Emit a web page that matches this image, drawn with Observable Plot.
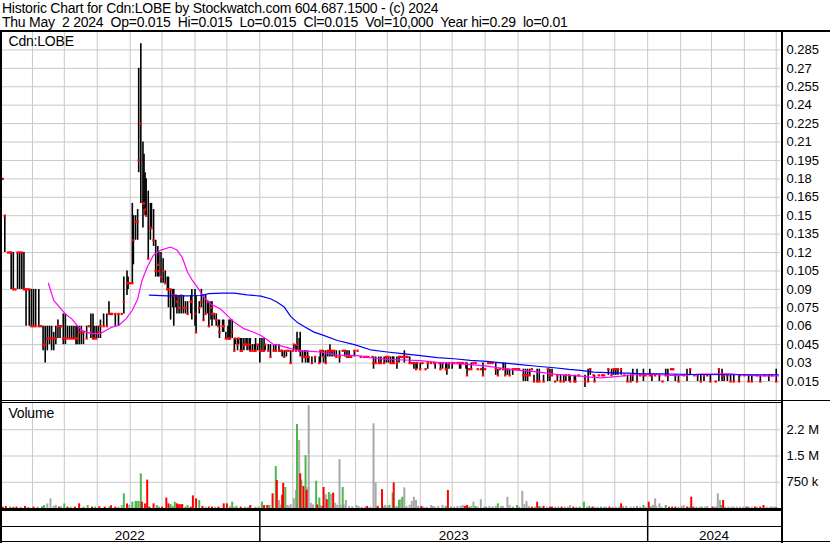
<!DOCTYPE html>
<html>
<head>
<meta charset="utf-8">
<script src="https://cdn.jsdelivr.net/npm/d3@7"></script>
<script src="https://cdn.jsdelivr.net/npm/@observablehq/plot@0.6"></script>
<style>
  html, body { margin: 0; padding: 0; background: #fff; }
  #wrap { position: relative; width: 830px; height: 543px; overflow: hidden; background: #fff;
          font-family: "Liberation Sans", Arial, sans-serif; color: #000; }
  #wrap > svg, #wrap > div.plot { position: absolute; left: 0; }
  .hdr { position: absolute; left: 2px; font-size: 14px; letter-spacing: -0.25px; white-space: pre; line-height: 15px; }
  .lbl { position: absolute; left: 8.5px; font-size: 14px; letter-spacing: -0.2px; white-space: pre; line-height: 15px; }
  .ln { position: absolute; background: #000; }
</style>
</head>
<body>
<div id="wrap"></div>
<script>
// ---------------- data ----------------
const titleLine1 = "Historic Chart for Cdn:LOBE by Stockwatch.com 604.687.1500 - (c) 2024";
const titleLine2 = "Thu May  2 2024  Op=0.015  Hi=0.015  Lo=0.015  Cl=0.015  Vol=10,000  Year hi=0.29  lo=0.01";
const symbolLabel = "Cdn:LOBE";
const volumeLabel = "Volume";

// day offset from 2022-05-01, high, low, close
const priceBars = [
[3,.18,.18,.18],[5,.15,.12,.15],[8,.12,.12,.12],[10,.12,.12,.12],[11,.12,.09,.12],[13,.12,.09,.09],[15,.09,.09,.09],[17,.12,.09,.12],[19,.12,.09,.12],[21,.12,.09,.12],[23,.12,.09,.09],[25,.09,.06,.09],[26,.09,.09,.09],[28,.09,.06,.09],[30,.09,.06,.06],[32,.09,.06,.06],[34,.09,.06,.06],[37,.09,.06,.06],[39,.06,.06,.06],
[41,.06,.04,.045],[43,.06,.03,.045],[45,.06,.04,.05],[47,.06,.045,.05],[49,.06,.04,.05],[51,.055,.04,.05],[53,.06,.045,.05],[55,.065,.05,.06],[57,.06,.05,.06],[58,.06,.06,.06],[60,.07,.045,.05],[62,.07,.045,.05],[64,.06,.05,.05],[66,.06,.05,.05],[68,.06,.05,.05],[70,.06,.05,.05],[72,.06,.045,.05],[73,.06,.045,.05],[75,.06,.045,.055],[77,.06,.045,.055],[79,.055,.045,.055],[82,.06,.05,.05],[84,.06,.06,.06],[86,.07,.05,.055],[88,.07,.05,.05],[89,.06,.05,.05],[91,.06,.05,.05],[93,.06,.05,.055],[95,.065,.05,.06],[98,.07,.06,.06],[101,.07,.06,.06],[103,.08,.07,.07],[105,.07,.07,.07],[106,.07,.07,.07],[109,.07,.06,.07],[112,.07,.06,.07],[115,.07,.07,.07],[117,.1,.07,.08],[120,.105,.085,.095],[121,.1,.09,.095],[123,.095,.095,.095],[125,.16,.095,.095],[126,.15,.11,.13],[128,.15,.13,.145],[130,.155,.13,.145],[131,.27,.185,.195],[133,.29,.16,.225],[135,.21,.14,.16],[136,.2,.155,.16],[137,.185,.15,.155],[138,.18,.15,.15],[140,.17,.115,.115],[142,.16,.13,.14],[143,.16,.14,.14],[145,.155,.125,.13],[147,.13,.1,.105],[149,.125,.1,.11],[150,.12,.1,.105],[152,.12,.095,.1],[154,.115,.095,.105],[156,.105,.095,.095],[158,.1,.09,.09],[159,.1,.075,.09],[161,.09,.065,.09],[163,.09,.075,.085],[164,.09,.06,.085],[166,.085,.075,.085],[167,.085,.07,.08],[169,.085,.07,.075],[171,.085,.07,.085],[173,.085,.07,.075],[175,.08,.07,.075],[177,.08,.07,.07],[180,.085,.07,.08],[181,.09,.065,.08],[184,.09,.06,.07],[185,.085,.055,.055],[188,.08,.07,.075],[190,.09,.075,.08],[192,.085,.065,.065],[194,.085,.07,.07],[196,.08,.07,.08],[197,.08,.06,.06],[199,.08,.065,.075],[200,.08,.06,.07],[202,.07,.065,.07],[204,.07,.06,.065],[206,.065,.06,.06],[207,.065,.05,.055],[210,.065,.055,.06],[211,.065,.055,.06],[213,.055,.05,.05],[215,.06,.05,.05],[216,.065,.05,.05],[217,.065,.05,.05],[219,.065,.05,.055],[221,.05,.04,.04],[222,.05,.045,.05],[224,.05,.04,.045],[225,.05,.045,.05],[227,.05,.04,.04],[228,.05,.04,.04],[230,.05,.04,.045],[232,.05,.045,.045],[233,.05,.04,.045],[235,.05,.04,.045],[236,.05,.04,.04],[238,.045,.04,.04],[240,.045,.04,.04],[241,.05,.04,.04],[243,.045,.04,.045],[245,.05,.03,.04],[247,.05,.04,.04],[249,.05,.04,.04],[250,.045,.04,.045],[253,.045,.04,.04],[255,.045,.035,.035],[258,.045,.04,.04],[260,.045,.04,.04],[263,.045,.04,.04],[265,.04,.04,.04],[266,.04,.035,.04],[268,.04,.035,.035],[270,.04,.035,.04],[272,.04,.04,.04],[274,.04,.03,.03],[276,.04,.04,.04],[277,.045,.04,.045],[279,.045,.04,.04],[280,.055,.04,.045],[282,.05,.04,.04],[283,.055,.035,.04],[285,.04,.03,.035],[287,.04,.035,.035],[288,.04,.03,.035],[290,.04,.03,.035],[291,.035,.03,.035],[294,.035,.03,.03],[297,.035,.03,.035],[301,.035,.03,.03],[302,.04,.03,.04],[304,.04,.035,.04],[305,.04,.03,.035],[307,.04,.03,.03],[309,.04,.035,.04],[311,.045,.035,.04],[313,.04,.035,.04],[315,.04,.035,.04],[317,.04,.035,.035],[320,.04,.03,.035],[323,.04,.04,.04],[325,.04,.035,.04],[327,.04,.035,.035],[329,.04,.035,.035],[331,.035,.035,.035],[334,.04,.035,.04],[337,.04,.04,.04],[340,.035,.035,.035],[343,.035,.035,.035],[345,.035,.035,.035],[347,.035,.035,.035],[351,.035,.035,.035],[352,.035,.025,.03],[354,.035,.03,.03],[357,.035,.03,.03],[359,.035,.03,.03],[362,.035,.03,.03],[364,.035,.03,.035],[366,.035,.03,.035],[368,.035,.03,.03],[370,.035,.03,.03],[371,.035,.03,.03],[374,.035,.025,.03],[376,.035,.03,.035],[377,.035,.035,.035],[379,.035,.035,.035],[381,.04,.03,.035],[383,.035,.035,.035],[384,.035,.035,.035],[386,.035,.03,.03],[388,.03,.03,.03],[390,.03,.025,.03],[392,.03,.025,.025],[393,.03,.025,.03],[396,.03,.025,.025],[398,.03,.03,.03],[401,.025,.025,.025],[403,.03,.025,.03],[406,.03,.03,.03],[409,.03,.03,.03],[410,.03,.025,.03],[414,.03,.03,.03],[415,.03,.025,.025],[417,.03,.025,.03],[420,.03,.025,.025],[421,.03,.02,.025],[423,.03,.025,.03],[426,.03,.025,.03],[428,.03,.03,.03],[431,.03,.03,.03],[433,.03,.025,.03],[434,.03,.025,.03],[436,.03,.03,.03],[439,.03,.025,.03],[440,.03,.02,.02],[442,.025,.025,.025],[444,.03,.025,.025],[446,.03,.03,.03],[448,.03,.03,.03],[450,.025,.025,.025],[453,.025,.025,.025],[455,.03,.02,.02],[457,.025,.025,.025],[460,.03,.03,.03],[462,.03,.03,.03],[464,.03,.03,.03],[467,.03,.02,.025],[469,.025,.02,.02],[471,.025,.025,.025],[474,.03,.025,.025],[476,.03,.02,.02],[478,.025,.02,.025],[480,.025,.02,.02],[483,.025,.02,.025],[485,.025,.025,.025],[487,.025,.025,.025],[489,.025,.025,.025],[493,.025,.015,.02],[495,.025,.015,.02],[497,.025,.015,.02],[499,.025,.02,.02],[501,.025,.025,.025],[503,.02,.015,.015],[506,.025,.015,.015],[508,.025,.015,.015],[512,.02,.015,.015],[516,.025,.015,.025],[518,.025,.015,.02],[520,.025,.02,.02],[523,.015,.015,.015],[525,.02,.015,.02],[528,.02,.015,.015],[531,.02,.015,.015],[533,.02,.015,.02],[536,.02,.015,.02],[537,.02,.015,.015],[541,.02,.015,.015],[542,.02,.015,.015],[545,.02,.02,.02],[551,.02,.01,.015],[554,.025,.015,.015],[556,.025,.02,.025],[559,.02,.02,.02],[560,.02,.015,.015],[564,.02,.02,.02],[567,.02,.02,.02],[569,.02,.02,.02],[573,.025,.02,.025],[576,.025,.02,.02],[578,.025,.02,.025],[580,.025,.02,.025],[582,.025,.02,.025],[585,.025,.02,.025],[588,.02,.02,.02],[591,.02,.015,.015],[594,.02,.015,.015],[596,.025,.015,.02],[600,.025,.015,.015],[603,.02,.02,.02],[606,.025,.015,.02],[608,.02,.02,.02],[612,.025,.02,.02],[614,.02,.015,.02],[617,.02,.02,.02],[621,.02,.015,.02],[624,.015,.015,.015],[627,.025,.02,.02],[629,.025,.015,.02],[632,.025,.025,.025],[634,.025,.025,.025],[636,.02,.015,.02],[639,.02,.015,.015],[644,.02,.02,.02],[647,.025,.015,.02],[650,.025,.02,.025],[654,.02,.02,.02],[657,.02,.015,.02],[660,.02,.015,.015],[663,.02,.015,.02],[666,.02,.02,.02],[669,.02,.015,.015],[674,.015,.015,.015],[677,.025,.015,.025],[680,.025,.015,.02],[682,.02,.015,.02],[685,.02,.015,.02],[688,.02,.015,.015],[691,.02,.015,.015],[696,.02,.015,.015],[697,.02,.02,.02],[701,.02,.02,.02],[705,.02,.015,.015],[708,.02,.015,.015],[713,.02,.02,.02],[716,.02,.015,.015],[720,.02,.02,.02],[724,.02,.015,.02],[727,.02,.02,.02],[731,.025,.015,.015]
];

// moving averages: day offset, value
const maFast = [
[46,.095],[51,.081],[56,.076],[62,.070],[68,.066],[73,.0606],[78,.0565],[86,.054],[95,.054],[105,.059],[112,.0606],[119,.066],[125,.073],[130,.082],[134,.097],[139,.108],[145,.118],[152,.122],[161,.1245],[167,.122],[172,.116],[177,.104],[181,.098],[186,.092],[192,.084],[199,.078],[208,.074],[214,.069],[221,.0633],[230,.058],[238,.0555],[246,.0525],[252,.049],[258,.045],[265,.044],[274,.0417],[283,.040],[293,.0395],[302,.039],[318,.0365],[337,.036],[349,.0345],[365,.033],[381,.0325],[396,.032],[412,.0305],[428,.0297],[443,.0287],[459,.0275],[475,.0255],[490,.024],[506,.0228],[522,.021],[536,.020],[547,.0193],[556,.0185],[566,.018],[575,.0185],[585,.0193],[594,.0205],[603,.0205],[613,.021],[622,.0205],[632,.020],[641,.020],[650,.0205],[660,.021],[669,.021],[679,.0213],[688,.0213],[697,.0205],[707,.020],[716,.0195],[726,.0195],[733,.0195]
];
const maSlow = [
[141,.0854],[158,.0847],[177,.0847],[189,.085],[197,.0865],[210,.087],[221,.087],[233,.0855],[246,.0845],[255,.0824],[261,.0797],[268,.0756],[274,.068],[280,.0633],[287,.0595],[296,.0552],[305,.0525],[318,.0484],[334,.045],[349,.0408],[365,.039],[381,.0375],[396,.036],[412,.0345],[428,.0335],[443,.0322],[459,.0313],[475,.030],[490,.0288],[506,.0274],[522,.0262],[536,.0248],[547,.024],[559,.0226],[578,.022],[591,.0218],[606,.0213],[622,.0213],[654,.0207],[685,.0205],[716,.0205],[733,.0205]
];

// volume: day offset, thousands of shares, direction (u = up, d = down, n = unchanged)
const volumeBars = [
[3,40,"d"],[6,60,"d"],[10,40,"u"],[13,30,"d"],[16,40,"d"],[20,40,"n"],[24,60,"d"],[27,30,"u"],[32,40,"d"],[36,40,"n"],[40,50,"u"],[42,86,"u"],[45,130,"n"],[48,276,"n"],[51,60,"n"],[53,90,"n"],[56,40,"d"],[58,50,"n"],[61,130,"u"],[64,40,"d"],[67,40,"n"],[71,40,"d"],[75,134,"d"],[79,40,"u"],[83,86,"u"],[87,40,"d"],[90,40,"u"],[94,50,"d"],[99,40,"d"],[103,40,"u"],[105,80,"d"],[109,40,"d"],[112,40,"n"],[115,86,"n"],[117,420,"u"],[120,130,"d"],[122,90,"n"],[125,180,"u"],[128,200,"u"],[129,200,"u"],[131,200,"u"],[133,990,"u"],[134,181,"d"],[137,130,"d"],[139,810,"d"],[141,40,"d"],[145,134,"d"],[148,86,"u"],[150,40,"u"],[153,40,"d"],[157,300,"d"],[159,134,"d"],[161,110,"u"],[163,60,"u"],[165,181,"u"],[167,134,"d"],[169,110,"d"],[171,110,"d"],[172,110,"d"],[175,40,"u"],[177,86,"u"],[180,40,"d"],[182,360,"d"],[185,276,"d"],[188,229,"u"],[191,60,"d"],[194,40,"n"],[197,40,"d"],[200,40,"d"],[203,40,"n"],[206,40,"d"],[211,134,"d"],[214,134,"d"],[217,60,"n"],[219,181,"u"],[221,40,"n"],[223,60,"u"],[227,40,"d"],[231,40,"n"],[234,40,"n"],[236,86,"d"],[241,40,"n"],[244,50,"n"],[247,181,"u"],[249,86,"d"],[252,86,"d"],[254,86,"u"],[257,420,"d"],[260,1200,"u"],[261,800,"d"],[263,229,"n"],[265,100,"n"],[266,380,"d"],[267,720,"d"],[269,600,"u"],[271,86,"n"],[272,60,"n"],[274,110,"n"],[277,276,"n"],[279,514,"n"],[280,2400,"u"],[282,1940,"n"],[283,990,"d"],[284,810,"u"],[286,630,"d"],[288,1510,"u"],[289,520,"d"],[290,590,"n"],[291,2940,"n"],[293,150,"n"],[295,100,"n"],[298,780,"u"],[299,100,"d"],[301,300,"u"],[302,86,"n"],[304,60,"d"],[305,600,"d"],[307,390,"n"],[308,250,"d"],[310,460,"u"],[312,400,"n"],[314,440,"d"],[316,150,"n"],[318,90,"n"],[320,1400,"n"],[321,90,"n"],[323,600,"u"],[324,100,"n"],[326,229,"n"],[329,60,"n"],[332,50,"n"],[336,86,"n"],[338,60,"n"],[341,40,"n"],[344,40,"n"],[346,60,"d"],[349,40,"n"],[352,2420,"n"],[354,730,"n"],[356,60,"d"],[360,540,"d"],[362,60,"n"],[363,90,"n"],[365,60,"n"],[367,90,"u"],[370,440,"u"],[371,730,"d"],[372,40,"n"],[374,60,"n"],[376,230,"u"],[377,250,"n"],[379,320,"u"],[381,590,"n"],[383,60,"n"],[386,90,"n"],[388,200,"n"],[390,320,"n"],[392,229,"n"],[394,60,"n"],[397,60,"d"],[399,40,"n"],[402,40,"n"],[406,86,"n"],[408,60,"n"],[410,40,"n"],[413,60,"n"],[417,86,"n"],[420,60,"u"],[422,514,"d"],[425,40,"u"],[428,40,"n"],[431,60,"n"],[434,60,"n"],[436,86,"n"],[438,60,"d"],[440,86,"d"],[442,40,"u"],[444,60,"n"],[446,180,"n"],[448,60,"u"],[450,40,"n"],[453,250,"n"],[456,40,"n"],[458,40,"u"],[461,60,"n"],[464,40,"u"],[467,60,"n"],[469,134,"u"],[472,60,"n"],[474,60,"n"],[478,320,"n"],[480,86,"n"],[483,40,"u"],[487,86,"u"],[489,40,"n"],[492,490,"n"],[494,110,"n"],[496,200,"n"],[498,60,"n"],[501,40,"d"],[504,40,"n"],[506,180,"d"],[508,60,"u"],[509,40,"u"],[512,60,"d"],[515,40,"n"],[518,40,"d"],[520,40,"d"],[523,40,"n"],[526,50,"n"],[529,40,"d"],[532,40,"n"],[535,40,"n"],[537,86,"n"],[540,40,"d"],[543,40,"n"],[546,40,"u"],[550,181,"u"],[553,40,"n"],[555,60,"u"],[558,40,"d"],[560,40,"n"],[563,40,"n"],[566,40,"u"],[569,40,"n"],[571,40,"n"],[574,40,"d"],[577,40,"n"],[580,40,"n"],[583,40,"n"],[585,134,"d"],[587,60,"n"],[590,60,"n"],[594,40,"n"],[597,40,"n"],[600,60,"u"],[603,40,"n"],[606,86,"u"],[608,40,"n"],[611,181,"d"],[613,60,"n"],[615,90,"n"],[617,276,"n"],[618,60,"n"],[621,134,"n"],[623,40,"n"],[627,86,"u"],[630,40,"d"],[633,40,"d"],[636,40,"d"],[639,40,"n"],[642,60,"n"],[644,86,"n"],[647,40,"d"],[649,40,"n"],[651,324,"d"],[653,40,"d"],[656,40,"n"],[659,40,"n"],[661,40,"u"],[664,40,"n"],[666,60,"n"],[671,40,"d"],[673,40,"n"],[675,60,"n"],[676,420,"n"],[678,229,"n"],[679,86,"u"],[681,229,"d"],[683,40,"n"],[686,40,"n"],[689,40,"n"],[691,40,"n"],[694,40,"n"],[697,40,"n"],[700,40,"n"],[703,40,"d"],[705,40,"u"],[708,40,"n"],[711,40,"d"],[713,40,"n"],[716,40,"d"],[719,86,"d"],[722,40,"n"],[725,40,"n"],[727,40,"n"],[729,40,"n"],[731,40,"u"]
];

const priceTicks = [0.015,0.03,0.045,0.06,0.075,0.09,0.105,0.12,0.135,0.15,0.165,0.18,0.195,0.21,0.225,0.24,0.255,0.27,0.285];
const priceTickLabels = ["0.015","0.03","0.045","0.06","0.075","0.09","0.105","0.12","0.135","0.15","0.165","0.18","0.195","0.21","0.225","0.24","0.255","0.27","0.285"];
const volumeTicks = [750, 1500, 2250];
const volumeTickLabels = ["750 k", "1.5 M", "2.2 M"];
const yearLabels = ["2022", "2023", "2024"];

// ---------------- build ----------------
const START = Date.UTC(2022, 4, 1);
const toDate = d => new Date(START + d * 864e5);
const xDomain = [toDate(0), toDate(735)];
const xScale = {type: "utc", domain: xDomain, range: [-1, 780]};

const bars = priceBars.map(([d, hi, lo, close]) => ({date: toDate(d), hi, lo, close}));
const fast = maFast.map(([d, v]) => ({date: toDate(d), v}));
const slow = maSlow.map(([d, v]) => ({date: toDate(d), v}));
const vols = volumeBars.map(([d, v, dir]) => ({date: toDate(d), v, dir}));
const monthStarts = d3.utcMonth.range(new Date(Date.UTC(2022, 5, 1)), new Date(Date.UTC(2024, 4, 2)));
const yearStarts = yearLabels.slice(1).map(y => new Date(`${y}-01-01T00:00:00Z`));
const yearRows = yearLabels.map(y => {
  const a = Math.max(+new Date(`${y}-01-01T00:00:00Z`), +xDomain[0]);
  const b = Math.min(+new Date(`${+y + 1}-01-01T00:00:00Z`), +xDomain[1]);
  return {label: y, mid: new Date((a + b) / 2)};
});

const GRID = "#c8c8c8";
const font = {fontFamily: "'Liberation Sans', Arial, sans-serif", fontSize: "13px", background: "transparent", overflow: "visible", color: "#000"};

const price = Plot.plot({
  width: 830, height: 370,
  marginLeft: 0, marginRight: 50, marginTop: 0, marginBottom: 0,
  style: font,
  x: {...xScale, axis: null},
  y: {domain: [0, 0.3], range: [368.4, 0], axis: null},
  marks: [
    Plot.ruleY(priceTicks, {stroke: GRID, strokeWidth: 1}),
    Plot.ruleX(monthStarts, {stroke: GRID, strokeWidth: 1}),
    Plot.ruleX(bars.filter(b => b.hi > b.lo), {x: "date", y1: "lo", y2: "hi", stroke: "#000", strokeWidth: 1.6}),
    Plot.dot(bars, {x: "date", y: "close", symbol: "square", r: 1.3, fill: "#ff0000"}),
    Plot.line(fast, {x: "date", y: "v", stroke: "#ff00ff", strokeWidth: 1.2}),
    Plot.line(slow, {x: "date", y: "v", stroke: "#0000ff", strokeWidth: 1.2}),
    Plot.axisY({anchor: "right", ticks: priceTicks, tickSize: 0, tickPadding: 6, label: null,
      tickFormat: d => priceTickLabels[priceTicks.indexOf(d)], fill: "#000", fontSize: 13})
  ]
});
price.style.top = "31px";

const volume = Plot.plot({
  width: 830, height: 105,
  marginLeft: 0, marginRight: 50, marginTop: 0, marginBottom: 0,
  style: font,
  x: {...xScale, axis: null},
  y: {domain: [0, 3000], range: [105, 0], axis: null},
  marks: [
    Plot.ruleY(volumeTicks, {stroke: GRID, strokeWidth: 1}),
    Plot.ruleX(monthStarts, {stroke: GRID, strokeWidth: 1}),
    Plot.ruleX(vols.filter(d => d.dir === "n"), {x: "date", y1: 0, y2: "v", stroke: "#a8a8a8", strokeWidth: 2}),
    Plot.ruleX(vols.filter(d => d.dir === "u"), {x: "date", y1: 0, y2: "v", stroke: "#4cb84c", strokeWidth: 2}),
    Plot.ruleX(vols.filter(d => d.dir === "d"), {x: "date", y1: 0, y2: "v", stroke: "#ff0000", strokeWidth: 2}),
    Plot.axisY({anchor: "right", ticks: volumeTicks, tickSize: 0, tickPadding: 6, label: null,
      tickFormat: d => volumeTickLabels[volumeTicks.indexOf(d)], fill: "#000", fontSize: 13})
  ]
});
volume.style.top = "403px";

const band = Plot.plot({
  width: 830, height: 31,
  marginLeft: 0, marginRight: 50, marginTop: 0, marginBottom: 0,
  style: font,
  x: {...xScale, axis: null},
  marks: [
    Plot.ruleX(yearStarts, {stroke: "#000", strokeWidth: 1.5}),
    Plot.text(yearRows, {x: "mid", text: "label", fontSize: 13.5, fill: "#000", dy: 9.6})
  ]
});
band.style.top = "510px";

const wrap = document.getElementById("wrap");
wrap.append(price, volume, band);

function line(l, t, w, h) {
  const el = document.createElement("div");
  el.className = "ln";
  Object.assign(el.style, {left: l + "px", top: t + "px", width: w + "px", height: h + "px"});
  wrap.append(el);
}
line(0, 30, 830, 2);      // under header
line(0, 30, 2, 513);      // left frame
line(781, 30, 2, 513);    // right frame
line(0, 400, 830, 1);     // price / volume separator
line(0, 402, 781, 1);
line(0, 508, 781, 2.5);   // volume baseline
line(0, 526, 781, 1.3);   // band divider
line(0, 540.5, 830, 1.5); // bottom frame

function text(cls, str, top) {
  const el = document.createElement("div");
  el.className = cls;
  el.textContent = str;
  el.style.top = top + "px";
  wrap.append(el);
}
text("hdr", titleLine1, 0.5);
text("hdr", titleLine2, 15.1);
text("lbl", symbolLabel, 33.8);
text("lbl", volumeLabel, 405.5);
</script>
</body>
</html>
